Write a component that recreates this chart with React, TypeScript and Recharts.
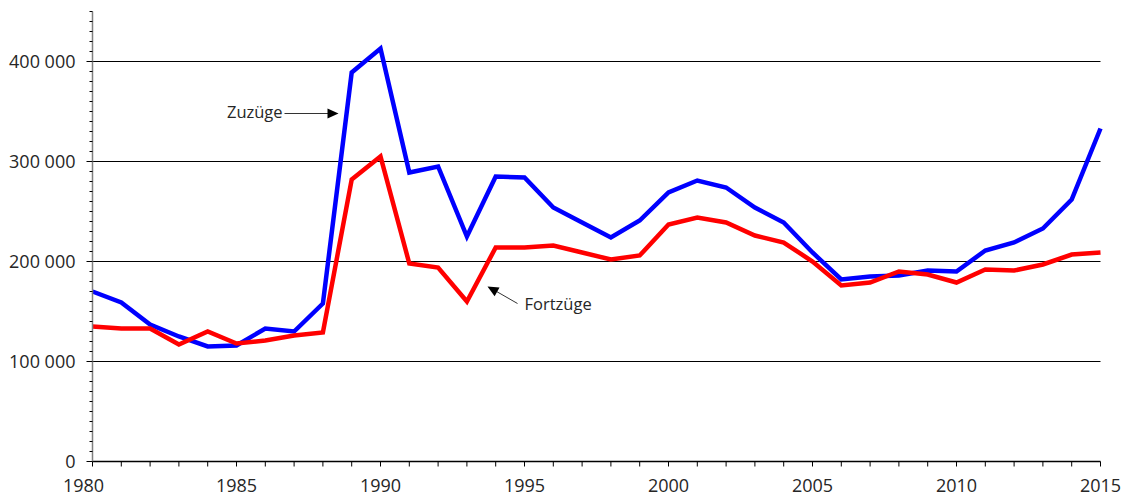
import React from "react";
import {
  ComposedChart,
  Line,
  XAxis,
  YAxis,
  ReferenceLine,
  ReferenceDot,
} from "recharts";

const years = [
  1980, 1981, 1982, 1983, 1984, 1985, 1986, 1987, 1988, 1989, 1990, 1991,
  1992, 1993, 1994, 1995, 1996, 1997, 1998, 1999, 2000, 2001, 2002, 2003,
  2004, 2005, 2006, 2007, 2008, 2009, 2010, 2011, 2012, 2013, 2014, 2015,
];

// Zuzüge (blue)
const zuzuege = [
  170000, 159000, 137000, 125000, 115000, 116000, 133000, 130000, 158000,
  389000, 413000, 289000, 295000, 225000, 285000, 284000, 254000, 239000,
  224000, 241000, 269000, 281000, 274000, 254000, 239000, 209000, 182000,
  185000, 186000, 191000, 190000, 211000, 219000, 233000, 262000, 333000,
];

// Fortzüge (red)
const fortzuege = [
  135000, 133000, 133000, 117000, 130000, 118000, 121000, 126000, 129000,
  282000, 305000, 198000, 194000, 160000, 214000, 214000, 216000, 209000,
  202000, 206000, 237000, 244000, 239000, 226000, 219000, 200000, 176000,
  179000, 190000, 187000, 179000, 192000, 191000, 197000, 207000, 209000,
];

const xTicks = years;
const yTicks = Array.from({ length: 46 }, (_, i) => i * 10000);
const gridValues = [100000, 200000, 300000, 400000];

const data = years.map((year, i) => ({
  year,
  zuzuege: zuzuege[i],
  fortzuege: fortzuege[i],
}));

const FONT = "'Open Sans', 'DejaVu Sans', sans-serif";
const TEXT_COLOR = "#262626";

function formatThousands(v: number) {
  return String(v).replace(/\B(?=(\d{3})+(?!\d))/g, " ");
}

function YTick({ x, y, payload }: any) {
  const v = payload.value as number;
  const major = v % 100000 === 0;
  return (
    <g>
      <line x1={x - (major ? 6 : 3)} x2={x} y1={y} y2={y} stroke="#000" strokeWidth={1} />
      {major && (
        <text
          x={x - 17}
          y={y}
          dy="0.36em"
          textAnchor="end"
          fontFamily={FONT}
          fontSize={18}
          fill={TEXT_COLOR}
        >
          {formatThousands(v)}
        </text>
      )}
    </g>
  );
}

function XTick({ x, y, payload }: any) {
  const v = payload.value as number;
  // first label sits a bit left of its tick, as in the source
  const shift = v === 1980 ? -9 : 0;
  return (
    <g>
      <line x1={x} x2={x} y1={y} y2={y + 5} stroke="#000" strokeWidth={1} />
      {v % 5 === 0 && (
        <text
          x={x + shift}
          y={y + 30}
          textAnchor="middle"
          fontFamily={FONT}
          fontSize={18}
          fill={TEXT_COLOR}
        >
          {v}
        </text>
      )}
    </g>
  );
}

// arrowhead drawn at the reference point, pointing along `angle` (degrees, screen coords)
function arrowHead(angle: number) {
  return ({ cx, cy }: any) => {
    const a = (angle * Math.PI) / 180;
    const len = 11;
    const half = 5;
    const bx = cx - Math.cos(a) * len;
    const by = cy - Math.sin(a) * len;
    const px = -Math.sin(a) * half;
    const py = Math.cos(a) * half;
    return (
      <polygon
        points={`${cx},${cy} ${bx + px},${by + py} ${bx - px},${by - py}`}
        fill="#000"
      />
    );
  };
}

function label(text: string, anchor: "start" | "end") {
  return ({ cx, cy }: any) => (
    <text
      x={cx}
      y={cy}
      dy="0.36em"
      textAnchor={anchor}
      fontFamily={FONT}
      fontSize={16.5}
      fill={TEXT_COLOR}
    >
      {text}
    </text>
  );
}

export default function App() {
  return (
    <div style={{ position: "absolute", left: 0, top: 0, background: "#fff" }}>
      <ComposedChart
        width={1123}
        height={497}
        data={data}
        margin={{ top: 11.5, right: 22.5, bottom: 0, left: 0 }}
      >
        <XAxis
          dataKey="year"
          type="number"
          domain={[1980, 2015]}
          ticks={xTicks}
          interval={0}
          height={35.5}
          tickSize={0}
          tickMargin={0}
          tickLine={false}
          axisLine={{ stroke: "#000", strokeWidth: 1.3 }}
          tick={<XTick />}
        />
        <YAxis
          type="number"
          domain={[0, 450000]}
          ticks={yTicks}
          interval={0}
          width={92.5}
          tickSize={0}
          tickMargin={0}
          tickLine={false}
          axisLine={{ stroke: "#7f7f7f", strokeWidth: 1.5 }}
          tick={<YTick />}
        />
        {gridValues.map((v) => (
          <ReferenceLine key={v} y={v} stroke="#000" strokeWidth={1} />
        ))}

        <Line
          dataKey="zuzuege"
          type="linear"
          stroke="#0000ff"
          strokeWidth={4.5}
          strokeLinejoin="miter"
          dot={false}
          isAnimationActive={false}
        />
        <Line
          dataKey="fortzuege"
          type="linear"
          stroke="#ff0000"
          strokeWidth={4.5}
          strokeLinejoin="miter"
          dot={false}
          isAnimationActive={false}
        />

        {/* Zuzüge annotation */}
        <ReferenceLine
          segment={[
            { x: 1986.667, y: 348000 },
            { x: 1988.3, y: 348000 },
          ]}
          stroke="#333"
          strokeWidth={1}
        />
        <ReferenceDot x={1988.542} y={348000} r={0} shape={arrowHead(0)} />
        <ReferenceDot x={1986.6} y={349000} r={0} shape={label("Zuzüge", "end")} />

        {/* Fortzüge annotation */}
        <ReferenceLine
          segment={[
            { x: 1994.757, y: 158000 },
            { x: 1993.85, y: 173000 },
          ]}
          stroke="#333"
          strokeWidth={1}
        />
        <ReferenceDot x={1993.715} y={175000} r={0} shape={arrowHead(209.5)} />
        <ReferenceDot x={1995.0} y={157000} r={0} shape={label("Fortzüge", "start")} />
      </ComposedChart>
    </div>
  );
}
